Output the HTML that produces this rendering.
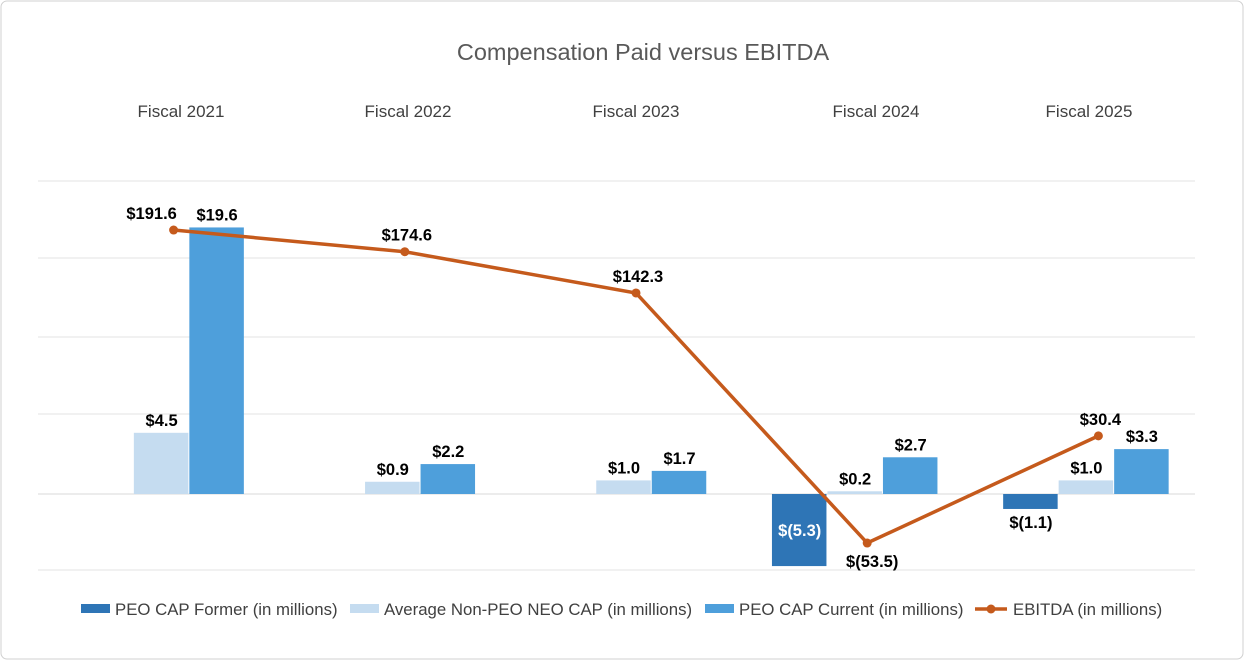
<!DOCTYPE html>
<html><head><meta charset="utf-8"><style>
body{margin:0;background:#fff;}
svg text{font-family:"Liberation Sans",Arial,sans-serif;}
</style></head><body>
<svg width="1244" height="660" xmlns="http://www.w3.org/2000/svg">
<rect x="1" y="1" width="1242" height="658" rx="6" fill="#fff" stroke="#d0d0d0"/>
<text x="643" y="60" text-anchor="middle" font-size="23.5" fill="#595959">Compensation Paid versus EBITDA</text>
<g id="grid"></g><g id="bars"></g><g id="line"></g><g id="labels"></g>
<g id="legend"></g>
</svg>
<script>
const categories=["Fiscal 2021","Fiscal 2022","Fiscal 2023","Fiscal 2024","Fiscal 2025"];
const peoFormer=[null,null,null,-5.3,-1.1];
const nonPeo=[4.5,0.9,1.0,0.2,1.0];
const peoCurrent=[19.6,2.2,1.7,2.7,3.3];
const ebitda=[191.6,174.6,142.3,-53.5,30.4];
const catLabelX=[181,408,636,876,1089];
const NS="http://www.w3.org/2000/svg";
function mk(p,t,a){const e=document.createElementNS(NS,t);for(const k in a)e.setAttribute(k,a[k]);p.appendChild(e);return e;}
const x0=45,cw=231.2,bw=55.5;
const cx=i=>x0+cw*(i+0.5);
const yb=v=>494-v*13.6;
const yl=v=>474.7-v*1.277;
const fmt=v=>v<0?"$("+Math.abs(v).toFixed(1)+")":"$"+v.toFixed(1);
const grid=document.getElementById('grid');
[181,258,337,414,494,570].forEach((y,i)=>{const l=mk(grid,'line',{x1:38,x2:1195,y1:y,y2:y,stroke:i==4?'#d9d9d9':'#e3e3e3'});

});
const bars=document.getElementById('bars'),lab=document.getElementById('labels');
categories.forEach((c,i)=>{
 const t=mk(lab,'text',{x:catLabelX[i],y:117,'text-anchor':'middle','font-size':17,fill:'#404040'});t.textContent=c;
 
 
 const series=[[peoFormer,'#2E75B6','peo-former-bar'],[nonPeo,'#C5DCF0','non-peo-bar'],[peoCurrent,'#4E9FDB','peo-current-bar']];
 series.forEach((s,j)=>{const v=s[0][i];if(v==null)return;
  const x=cx(i)-1.5*bw+j*bw+1;const y1=yb(Math.max(v,0)),y2=yb(Math.min(v,0));
  const r=mk(bars,'rect',{x:x,y:y1,width:bw-1,height:y2-y1,fill:s[1]});
  
  
  let ty,fill='#000';
  if(v>=0)ty=y1-7;else if(y2-y1>40){ty=(y1+y2)/2+6;fill='#fff';}else ty=y2+19;
  const tt=mk(lab,'text',{x:x+bw/2,y:ty,'text-anchor':'middle','font-size':16.5,'font-weight':'bold',fill:fill});tt.textContent=fmt(v);
  
  
 });
});
const line=document.getElementById('line');
const lx=i=>cx(i)+13;
const pl=mk(line,'polyline',{points:ebitda.map((v,i)=>lx(i)+','+yl(v)).join(' '),fill:'none',stroke:'#C55A1C','stroke-width':3.5});


ebitda.forEach((v,i)=>{const c=mk(line,'circle',{cx:lx(i),cy:yl(v),r:4.5,fill:'#C55A1C'});
 
 
 const neg=v<0;
 const t=mk(lab,'text',{x:lx(i)+(i==0?-22:(neg?5:2)),y:neg?yl(v)+24:yl(v)-11,'text-anchor':'middle','font-size':16.5,'font-weight':'bold',fill:'#000'});t.textContent=fmt(v);
 
 
});
const lg=document.getElementById('legend');
const items=[["PEO CAP Former (in millions)",'#2E75B6',81],["Average Non-PEO NEO CAP (in millions)",'#C5DCF0',350],["PEO CAP Current (in millions)",'#4E9FDB',705],["EBITDA (in millions)",'#C55A1C',975]];
items.forEach((it,i)=>{
 if(i<3){const r=mk(lg,'rect',{x:it[2],y:604,width:29,height:9,fill:it[1]});
  
  }
 else{const l=mk(lg,'line',{x1:it[2],x2:it[2]+32,y1:609,y2:609,stroke:it[1],'stroke-width':3.5});
  
  
  mk(lg,'circle',{cx:it[2]+16,cy:609,r:4.5,fill:it[1]});}
 const t=mk(lg,'text',{x:it[2]+(i<3?34:38),y:615,'font-size':16.8,fill:'#404040'});t.textContent=it[0];
 
 
});
</script>
</body></html>
